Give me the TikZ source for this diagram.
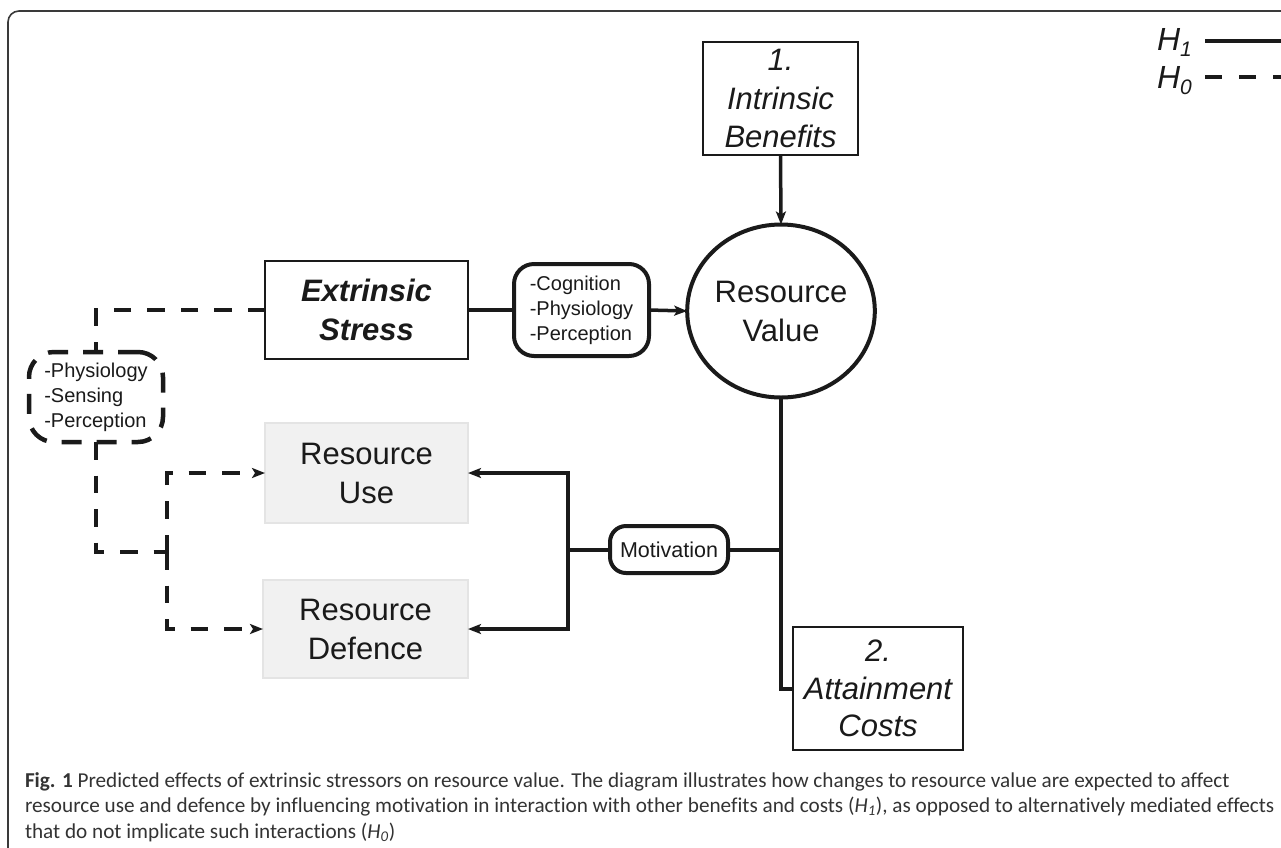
\documentclass[tikz,border=0pt]{standalone}
\usepackage{fontspec}
\setmainfont{Liberation Sans}
\newfontfamily\capfont[Ligatures=NoCommon]{Carlito}
\usetikzlibrary{arrows.meta,shapes.geometric}
\definecolor{ink}{HTML}{1A1A1A}
\definecolor{boxfill}{HTML}{F1F1F1}
\definecolor{boxline}{HTML}{E4E4E4}
\definecolor{capgray}{HTML}{333333}
\definecolor{framegray}{HTML}{3A3A3A}
\begin{document}
\begin{tikzpicture}[x=1pt,y=-1pt,
  every node/.style={inner sep=0pt, outer sep=0pt, align=center, text=ink},
  big/.style={font=\fontsize{31}{39}\selectfont},
  plainbox/.style={draw=ink, line width=2.6pt, big},
  roundbox/.style={draw=ink, line width=4pt, rounded corners=20pt, align=left, font=\fontsize{20}{25}\selectfont},
  greybox/.style={fill=boxfill, draw=boxline, line width=1.5pt, big},
  conn/.style={draw=ink, line width=4pt},
  dsh/.style={draw=ink, line width=4.5pt, dash pattern=on 17.5pt off 16pt},
  tip/.style={-{Stealth[length=13pt,width=10pt,inset=3pt]}},
  legtext/.style={anchor=base west, font=\fontsize{32}{32}\selectfont\itshape},
  captext/.style={anchor=base west, font=\capfont\fontsize{21.2}{25}\selectfont, text=capgray, align=left}
]
\useasboundingbox (0,0) rectangle (1281,847);
\clip (0,0) rectangle (1281,847);
% outer frame
\draw[line width=1.6pt, draw=framegray, rounded corners=11pt] (8,900) -- (8,11) -- (1320,11);

% nodes
\node[plainbox, minimum width=155pt, minimum height=113pt, font=\fontsize{31}{38.5}\selectfont\itshape] (ib) at (780.5,98.5) {1.\\Intrinsic\\Benefits};
\node[ellipse, draw=ink, line width=4pt, minimum width=170pt, minimum height=173pt, big] (rv) at (781,311) {Resource\\Value};
\node[plainbox, minimum width=203pt, minimum height=98pt, font=\fontsize{31}{39}\selectfont\bfseries\itshape] (es) at (366.5,310) {Extrinsic\\Stress};
\node[roundbox, minimum width=135pt, minimum height=92pt] (cg) at (581.5,310) {-Cognition\\-Physiology\\-Perception};
\node[roundbox, dash pattern=on 20pt off 15pt, line width=4.5pt, minimum width=134pt, minimum height=90pt, rounded corners=25pt] (ps) at (96,397) {-Physiology\\-Sensing\\-Perception};
\node[greybox, minimum width=203pt, minimum height=100pt] (ru) at (366.5,473) {Resource\\Use};
\node[greybox, minimum width=205pt, minimum height=98pt] (rd) at (365.5,629) {Resource\\Defence};
\node[roundbox, align=center, rounded corners=16pt, minimum width=118pt, minimum height=47pt, font=\fontsize{21.5}{25}\selectfont] (mo) at (669,549.5) {Motivation};
\node[plainbox, minimum width=170pt, minimum height=123pt, font=\fontsize{31}{37.5}\selectfont\itshape] (ac) at (878,688.5) {2.\\Attainment\\Costs};

% solid connectors (H1)
\draw[conn, line width=3.5pt, tip] (ib.south) -- (rv.north);
\draw[conn] (es.east) -- (cg.west);
\draw[conn, line width=3.5pt, tip] (cg.east) -- (rv.west);
\draw[conn] (rv.south) |- (ac.west);
\draw[conn] (mo.east) -- (mo.east -| rv.south);
\coordinate (mj) at (568,549.5);
\draw[conn] (mo.west) -- (mj);
\draw[conn, tip] (mj) |- (ru.east);
\draw[conn, tip] (mj) |- (rd.east);

% dashed connectors (H0)
\draw[dsh] (es.west) -| (ps.north);
\coordinate (dj) at (167,552);
\draw[dsh] (ps.south) |- (dj);
\draw[dsh, tip] (dj) |- (ru.west);
\draw[dsh, tip] (dj) |- (rd.west);

% legend
\node[legtext] (h1) at (1157,50) {H\raisebox{-6pt}{\fontsize{21}{21}\selectfont 1}};
\node[legtext] (h0) at (1157,88) {H\raisebox{-6pt}{\fontsize{21}{21}\selectfont 0}};
\coordinate (l1a) at (1205,41);
\coordinate (l1b) at (1300,41);
\coordinate (l0a) at (1205,77);
\coordinate (l0b) at (1300,77);
\draw[conn] (l1a) -- (l1b);
\draw[dsh, dash pattern=on 17pt off 17pt] (l0a) -- (l0b);

% caption
\node[captext] (c1) at (25,787) {\textbf{Fig. 1} Predicted effects of extrinsic stressors on resource value. The diagram illustrates how changes to resource value are expected to affect};
\node[captext] (c2) at (25,812.5) {resource use and defence by influencing motivation in interaction with other benefits and costs (\textit{H}\textsubscript{\textit{1}}), as opposed to alternatively mediated effects};
\node[captext] (c3) at (25,838) {that do not implicate such interactions (\textit{H}\textsubscript{\textit{0}})};
\end{tikzpicture}
\end{document}
